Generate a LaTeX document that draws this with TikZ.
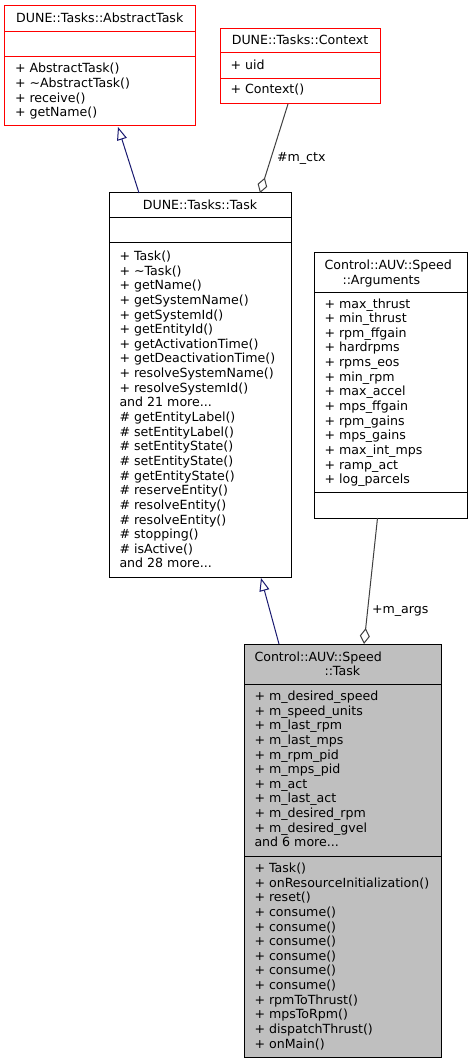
\documentclass[tikz,border=0pt]{standalone}
\usepackage{fontspec}
\setmainfont{DejaVu Sans}
\usetikzlibrary{arrows.meta,calc}
\definecolor{inhblue}{HTML}{191970}
\definecolor{aggray}{HTML}{404040}
\definecolor{boxred}{HTML}{FF0000}
\definecolor{clsgray}{HTML}{BFBFBF}
\newcommand\dfont{\fontsize{12.6pt}{14.64pt}\selectfont}
\newcommand\tdots{...}
\begin{document}
\begin{tikzpicture}[x=1pt,y=-1pt,
  box/.style={draw, line width=1pt, inner sep=0pt, outer sep=0pt, anchor=north west},
  redbox/.style={box, draw=boxred},
  blkbox/.style={box, draw=black},
  divred/.style={draw=boxred, line width=1pt},
  divblk/.style={draw=black, line width=1pt},
  txt/.style={inner sep=0pt, outer sep=0pt, anchor=base west, font=\dfont},
  ctxt/.style={txt, anchor=base},
  inh/.style={draw=inhblue, line width=1pt, -{Triangle[open, length=13pt, width=10pt, fill=white]}},
  agg/.style={draw=aggray, line width=1pt, -{Diamond[open, length=16pt, width=10pt, fill=white]}},
]
\useasboundingbox[fill=white] (0,0) rectangle (472,1064);

% AbstractTask
\node[redbox, minimum width=190.5pt, minimum height=120pt] (abs) at (4.5,6) {};
\draw[divred] ($(abs.north west)+(0,26)$) -- ($(abs.north east)+(0,26)$);
\draw[divred] ($(abs.north west)+(0,51)$) -- ($(abs.north east)+(0,51)$);
\node[ctxt] (abs-t) at ($(abs.north)+(0,17)$) {DUNE::Tasks::AbstractTask};
\foreach \s [count=\i from 0] in {+ AbstractTask(), + \textasciitilde AbstractTask(), + receive(), + getName()}
  \node[txt] (abs-m\i) at ($(abs.north west)+(10.5,{67+14.64*\i})$) {\s};

% Context
\node[redbox, minimum width=160pt, minimum height=75pt] (ctx) at (220,29) {};
\draw[divred] ($(ctx.north west)+(0,24)$) -- ($(ctx.north east)+(0,24)$);
\draw[divred] ($(ctx.north west)+(0,50)$) -- ($(ctx.north east)+(0,50)$);
\node[ctxt] (ctx-t) at ($(ctx.north)+(0,16)$) {DUNE::Tasks::Context};
\node[txt] (ctx-a) at ($(ctx.north west)+(10.5,40.5)$) {+ uid};
\node[txt] (ctx-m) at ($(ctx.north west)+(10.5,65)$) {+ Context()};

% Task
\node[blkbox, minimum width=182pt, minimum height=384pt] (task) at (109,193) {};
\draw[divblk] ($(task.north west)+(0,25)$) -- ($(task.north east)+(0,25)$);
\draw[divblk] ($(task.north west)+(0,50)$) -- ($(task.north east)+(0,50)$);
\node[ctxt] (task-t) at ($(task.north)+(0,17)$) {DUNE::Tasks::Task};
\foreach \s [count=\i from 0] in {+ Task(), + \textasciitilde Task(), + getName(), + getSystemName(), + getSystemId(), + getEntityId(), + getActivationTime(), + getDeactivationTime(), + resolveSystemName(), + resolveSystemId(), and 21 more\tdots, \# getEntityLabel(), \# setEntityLabel(), \# setEntityState(), \# setEntityState(), \# getEntityState(), \# reserveEntity(), \# resolveEntity(), \# resolveEntity(), \# stopping(), \# isActive(), and 28 more\tdots}
  \node[txt] (task-m\i) at ($(task.north west)+(10.5,{67.5+14.64*\i})$) {\s};

% Arguments
\node[blkbox, minimum width=153pt, minimum height=265pt] (args) at (314,253) {};
\draw[divblk] ($(args.north west)+(0,39)$) -- ($(args.north east)+(0,39)$);
\draw[divblk] ($(args.north west)+(0,239)$) -- ($(args.north east)+(0,239)$);
\node[txt] (args-t1) at ($(args.north west)+(10.5,17)$) {Control::AUV::Speed};
\node[txt] (args-t2) at ($(args.north west)+(28.5,31.5)$) {::Arguments};
\foreach \s [count=\i from 0] in {+ max\_thrust, + min\_thrust, + rpm\_ffgain, + hardrpms, + rpms\_eos, + min\_rpm, + max\_accel, + mps\_ffgain, + rpm\_gains, + mps\_gains, + max\_int\_mps, + ramp\_act, + log\_parcels}
  \node[txt] (args-m\i) at ($(args.north west)+(10.5,{55+14.64*\i})$) {\s};

% Speed::Task
\node[blkbox, fill=clsgray, minimum width=197pt, minimum height=413pt] (spd) at (244,644) {};
\draw[divblk] ($(spd.north west)+(0,40)$) -- ($(spd.north east)+(0,40)$);
\draw[divblk] ($(spd.north west)+(0,212)$) -- ($(spd.north east)+(0,212)$);
\node[txt] (spd-t1) at ($(spd.north west)+(10.5,17)$) {Control::AUV::Speed};
\node[txt] (spd-t2) at ($(spd.north west)+(80.5,31.5)$) {::Task};
\foreach \s [count=\i from 0] in {+ m\_desired\_speed, + m\_speed\_units, + m\_last\_rpm, + m\_last\_mps, + m\_rpm\_pid, + m\_mps\_pid, + m\_act, + m\_last\_act, + m\_desired\_rpm, + m\_desired\_gvel, and 6 more\tdots}
  \node[txt] (spd-a\i) at ($(spd.north west)+(10.5,{56.5+14.64*\i})$) {\s};
\foreach \s [count=\i from 0] in {+ Task(), + onResourceInitialization(), + reset(), + consume(), + consume(), + consume(), + consume(), + consume(), + consume(), + rpmToThrust(), + mpsToRpm(), + dispatchThrust(), + onMain()}
  \node[txt] (spd-m\i) at ($(spd.north west)+(10.5,{228.5+14.64*\i})$) {\s};

% connectors
\draw[inh] ($(task.north west)+(30,0)$) -- ($(abs.south west)+(113.5,1)$);
\draw[agg] ($(ctx.south west)+(68,0)$) -- ($(task.north west)+(151,0)$);
\node[txt] (lbl-ctx) at (277,162) {\#m\_ctx};
\draw[inh] ($(spd.north west)+(35,0)$) -- ($(task.south west)+(152,1)$);
\draw[agg] ($(args.south west)+(63.5,0)$) -- ($(spd.north west)+(120,0)$);
\node[txt] (lbl-args) at (372,613) {+m\_args};
\end{tikzpicture}
\end{document}
